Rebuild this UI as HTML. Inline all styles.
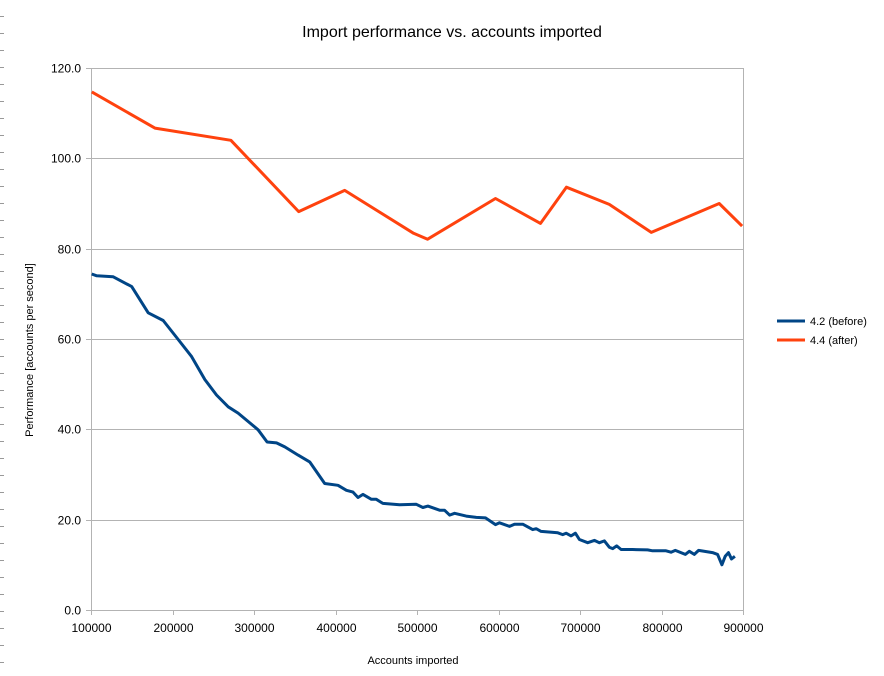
<!DOCTYPE html>
<html><head><meta charset="utf-8"><style>
html,body{margin:0;padding:0;background:#fff;}
svg{display:block;font-family:"Liberation Sans",sans-serif;}
</style></head><body>
<svg id="chart" width="884" height="676">
<g id="ruler"></g>
<text x="452" y="37" font-size="16" text-anchor="middle" fill="#000">Import performance vs. accounts imported</text>
<g id="grid"></g>
<g id="axes"></g>
<g id="series"></g>
<text transform="translate(33,350) rotate(-90)" font-size="11" text-anchor="middle">Performance [accounts per second]</text>
<text x="413" y="664" font-size="11" text-anchor="middle">Accounts imported</text>
<g>
<g><line x1="777" y1="321" x2="805" y2="321" stroke="#004586" stroke-width="3"/><text x="810" y="325" font-size="11">4.2 (before)</text></g>
<g><line x1="777" y1="340" x2="805" y2="340" stroke="#ff420e" stroke-width="3"/><text x="810" y="344" font-size="11">4.4 (after)</text></g>
</g>
</svg>
<script>
const xTicks=[100000,200000,300000,400000,500000,600000,700000,800000,900000];
const yTicks=[0,20,40,60,80,100,120];
const beforeX=[100900,107000,127000,149900,170200,188600,207000,223400,239700,254000,268300,280500,305000,316100,327600,337800,354100,368400,386800,403100,413400,421500,427600,433700,444000,450100,458200,478700,499100,507200,513400,527700,533800,540000,546100,560400,572700,584100,596300,601200,613500,619600,629800,642000,646200,652300,672700,678800,683000,689100,694400,699300,709500,717700,723800,729900,736000,740100,745000,750400,764600,783000,789100,805500,811700,816900,829200,834100,840200,845500,862600,868800,874100,878200,882200,885900,890100];
const beforeY=[74.4,74.0,73.8,71.6,65.8,64.1,59.9,56.1,51.0,47.6,45.0,43.6,39.9,37.2,37.0,36.1,34.3,32.8,28.0,27.6,26.5,26.1,24.9,25.6,24.5,24.5,23.6,23.3,23.4,22.7,23.0,22.1,22.1,21.0,21.4,20.8,20.5,20.4,18.9,19.3,18.5,19.0,19.0,17.8,18.0,17.4,17.1,16.7,17.0,16.4,17.0,15.6,14.9,15.4,14.9,15.3,13.9,13.6,14.2,13.4,13.4,13.3,13.1,13.1,12.8,13.2,12.3,13.0,12.3,13.2,12.7,12.3,10.0,11.9,12.7,11.3,11.9];
const afterX=[101000,178400,271600,354900,411300,495800,513000,596300,651500,683300,736000,787500,870800,898900];
const afterY=[114.7,106.7,104.0,88.2,92.9,83.4,82.1,91.1,85.6,93.6,89.8,83.6,90.0,85.0];
const X0=91,X1=743,Y0=610,Y1=68;
const sx=v=>X0+(v-100000)/800000*(X1-X0);
const sy=v=>Y0-v/120*(Y0-Y1);
const NS='http://www.w3.org/2000/svg';
function mk(t,a,p){const e=document.createElementNS(NS,t);for(const k in a)e.setAttribute(k,a[k]);p.appendChild(e);return e;}
const ruler=document.getElementById('ruler');
for(let y=16;y<676;y+=17){const l=mk('line',{x1:0,x2:4,y1:y+0.5,y2:y+0.5,stroke:'#999'},ruler);

}
const grid=document.getElementById('grid'),axes=document.getElementById('axes');
yTicks.forEach(v=>{const y=Math.round(sy(v))+0.5;
const g=mk('line',{x1:X0-5,x2:X1,y1:y,y2:y,stroke:'#b3b3b3'},grid);


const t=mk('text',{x:X0-10,y:y+4,'font-size':12,'text-anchor':'end'},axes);t.textContent=v.toFixed(1);

});
xTicks.forEach(v=>{const x=Math.round(sx(v))+0.5;
const tk=mk('line',{x1:x,x2:x,y1:Y0,y2:Y0+5,stroke:'#b3b3b3'},axes);


const t=mk('text',{x:x,y:Y0+22,'font-size':12,'text-anchor':'middle'},axes);t.textContent=v;

});
const la=mk('line',{x1:X0+0.5,x2:X0+0.5,y1:Y1,y2:Y0,stroke:'#b3b3b3'},axes);


const ra=mk('line',{x1:X1+0.5,x2:X1+0.5,y1:Y1,y2:Y0,stroke:'#b3b3b3'},axes);


const series=document.getElementById('series');
const p1=mk('polyline',{points:beforeX.map((x,i)=>sx(x).toFixed(1)+','+sy(beforeY[i]).toFixed(1)).join(' '),fill:'none',stroke:'#004586','stroke-width':3,'stroke-linejoin':'round'},series);


const p2=mk('polyline',{points:afterX.map((x,i)=>sx(x).toFixed(1)+','+sy(afterY[i]).toFixed(1)).join(' '),fill:'none',stroke:'#ff420e','stroke-width':3,'stroke-linejoin':'round'},series);


</script>
</body></html>
